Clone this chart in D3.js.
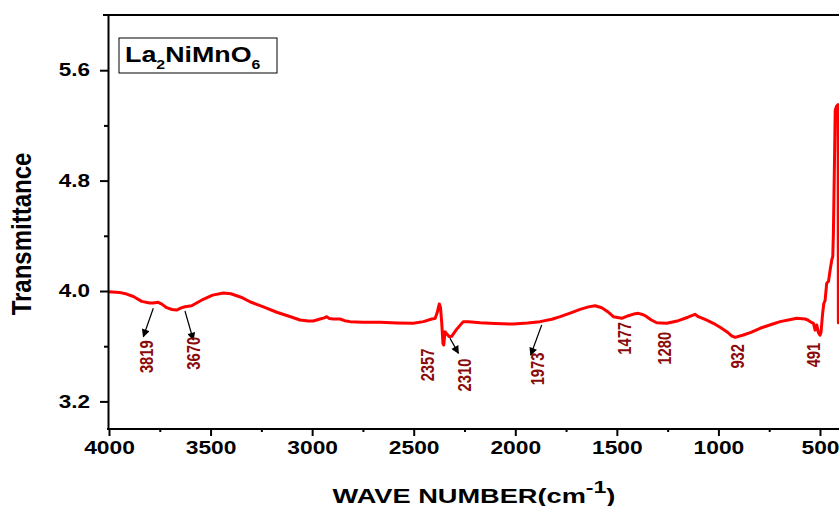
<!DOCTYPE html>
<html>
<head>
<meta charset="utf-8">
<script src="https://cdn.jsdelivr.net/npm/d3@7"></script>
<style>
  html, body { margin: 0; padding: 0; background: #fff; }
  svg { display: block; font-family: "Liberation Sans", Arial, sans-serif; }
</style>
</head>
<body>
<svg id="chart" width="839" height="506"></svg>
<script>
// FT-IR spectrum of La2NiMnO6
const wavenumber = [
  4000, 3950, 3913, 3880, 3839, 3800, 3783, 3758, 3740, 3716, 3690, 3667, 3645, 3626, 3593,
  3560, 3536, 3490, 3437, 3400, 3350, 3306, 3240, 3174, 3110, 3060, 3020, 2994, 2961, 2940,
  2928, 2915, 2896, 2863, 2840, 2813, 2750, 2666, 2580, 2502, 2452, 2411, 2395, 2385, 2374,
  2368, 2362, 2356, 2352, 2346, 2338, 2325, 2313, 2290, 2256, 2231, 2173, 2100, 2009, 1940,
  1878, 1820, 1779, 1730, 1681, 1640, 1607, 1574, 1545, 1517, 1476, 1443, 1410, 1394, 1370,
  1353, 1330, 1304, 1254, 1197, 1150, 1115, 1099, 1060, 1025, 990, 959, 935, 918, 877,
  840, 795, 740, 696, 650, 614, 573, 560, 549, 532, 524, 516, 508, 500, 495,
  487, 481, 475, 467, 458, 450, 442, 437, 434, 428, 425, 418, 411, 409.5, 405
];
const transmittance = [
  3.995, 3.990, 3.978, 3.960, 3.925, 3.913, 3.913, 3.918, 3.905, 3.879, 3.866, 3.862, 3.878, 3.886, 3.893,
  3.920, 3.940, 3.970, 3.986, 3.980, 3.955, 3.922, 3.885, 3.846, 3.815, 3.790, 3.782, 3.783, 3.797, 3.805,
  3.814, 3.800, 3.797, 3.797, 3.785, 3.778, 3.774, 3.773, 3.768, 3.766, 3.778, 3.797, 3.800, 3.840, 3.906,
  3.880, 3.768, 3.620, 3.609, 3.705, 3.690, 3.669, 3.672, 3.720, 3.778, 3.778, 3.770, 3.765, 3.760, 3.768,
  3.778, 3.795, 3.814, 3.840, 3.867, 3.885, 3.893, 3.879, 3.850, 3.814, 3.802, 3.821, 3.836, 3.838, 3.828,
  3.814, 3.790, 3.770, 3.766, 3.785, 3.810, 3.831, 3.814, 3.790, 3.766, 3.735, 3.705, 3.675, 3.664, 3.681,
  3.700, 3.730, 3.757, 3.778, 3.792, 3.802, 3.797, 3.790, 3.778, 3.766, 3.717, 3.754, 3.700, 3.680, 3.700,
  3.838, 3.911, 3.930, 4.056, 4.070, 4.152, 4.225, 4.250, 4.420, 5.000, 5.310, 5.340, 5.350, 3.770, 3.770
];

const xTickValues = [4000, 3500, 3000, 2500, 2000, 1500, 1000, 500];
const xMinorTicks = [3750, 3250, 2750, 2250, 1750, 1250, 750];
const yTickValues = [3.2, 4.0, 4.8, 5.6];
const yMinorTicks = [3.6, 4.4, 5.2];

const peakLabels = ["3819", "3670", "2357", "2310", "1973", "1477", "1280", "932", "491"];

// label centres and arrows, placed in data coordinates
const labelAnchors = [
  [3814, 3.524], [3585, 3.549], [2432, 3.464], [2251, 3.391], [1891, 3.435],
  [1464, 3.657], [1267, 3.585], [906, 3.527], [533, 3.536]
];
const arrows = [
  [[3782, 3.875], [3831, 3.669]],
  [[3626, 3.855], [3585, 3.645]],
  [[2321, 3.657], [2280, 3.549]],
  [[1870, 3.754], [1924, 3.536]]
];

const svg = d3.select("#chart");
const plotLeft = 108, plotRight = 840.3, plotTop = 15, plotBottom = 429;

const x = d3.scaleLinear().domain([4000, 400]).range([plotLeft + 1, plotRight]);
const y = d3.scaleLinear().domain([3.0, 6.0]).range([plotBottom, plotTop]);

const defs = svg.append("defs");
defs.append("marker")
  .attr("id", "arrowhead")
  .attr("viewBox", "0 0 10 10")
  .attr("refX", 9).attr("refY", 5)
  .attr("markerWidth", 9).attr("markerHeight", 8)
  .attr("markerUnits", "userSpaceOnUse")
  .attr("orient", "auto")
  .append("path").attr("d", "M0,0 L10,5 L0,10 z").attr("fill", "#000");
defs.append("clipPath").attr("id", "plotClip")
  .append("rect").attr("x", plotLeft).attr("y", plotTop).attr("width", 900).attr("height", plotBottom - plotTop);

// top frame line
svg.append("line")
  .attr("x1", plotLeft - 5).attr("x2", 839).attr("y1", plotTop).attr("y2", plotTop)
  .attr("stroke", "#000").attr("stroke-width", 2);

// spectrum
const line = d3.line().x((d, i) => x(wavenumber[i])).y(d => y(d));
svg.append("path")
  .datum(transmittance)
  .attr("clip-path", "url(#plotClip)")
  .attr("d", line)
  .attr("fill", "none")
  .attr("stroke", "#ff0000")
  .attr("stroke-width", 3)
  .attr("stroke-linejoin", "round");

// axes
const xAxis = svg.append("g").attr("transform", `translate(0,${plotBottom})`)
  .call(d3.axisBottom(x).tickValues(xTickValues).tickSize(7).tickSizeOuter(0).tickPadding(5).tickFormat(d3.format("d")));
svg.append("g").attr("transform", `translate(0,${plotBottom})`)
  .call(d3.axisBottom(x).tickValues(xMinorTicks).tickSize(3).tickSizeOuter(0).tickFormat(""))
  .call(g => g.select(".domain").remove());
xAxis.select(".domain").attr("d", `M${plotLeft - 1},0H839`);

const yAxis = svg.append("g").attr("transform", `translate(${plotLeft},0)`)
  .call(d3.axisLeft(y).tickValues(yTickValues).tickSize(8).tickSizeOuter(0).tickFormat(d3.format(".1f")));
svg.append("g").attr("transform", `translate(${plotLeft},0)`)
  .call(d3.axisLeft(y).tickValues(yMinorTicks).tickSize(4).tickSizeOuter(0).tickFormat(""))
  .call(g => g.select(".domain").remove());

svg.selectAll(".domain, .tick line").attr("stroke", "#000").attr("stroke-width", 2);

const xsx = 1.2, ysx = 1.25;
xAxis.selectAll(".tick text")
  .attr("font-size", 19).attr("font-weight", "bold").attr("fill", "#000")
  .attr("font-family", "Liberation Sans, Arial, sans-serif")
  .attr("transform", `scale(${xsx},1)`);
yAxis.selectAll(".tick text")
  .attr("font-size", 18).attr("font-weight", "bold").attr("fill", "#000")
  .attr("font-family", "Liberation Sans, Arial, sans-serif")
  .attr("x", -18 / ysx)
  .attr("transform", `scale(${ysx},1)`);

// axis titles
svg.append("text")
  .attr("transform", "translate(31,234) rotate(-90) scale(1,1.16)")
  .attr("text-anchor", "middle")
  .attr("font-size", 24).attr("font-weight", "bold")
  .text("Transmittance");

const xTitle = svg.append("text")
  .attr("transform", "translate(474,503) scale(1.36,1)")
  .attr("text-anchor", "middle")
  .attr("font-size", 20).attr("font-weight", "bold");
xTitle.append("tspan").text("WAVE NUMBER(cm");
xTitle.append("tspan").attr("dy", -10).attr("font-size", 17).text("-1");
xTitle.append("tspan").attr("dy", 10).text(")");

// legend box
svg.append("rect")
  .attr("x", 119).attr("y", 38).attr("width", 158).attr("height", 35)
  .attr("fill", "#fff").attr("stroke", "#000").attr("stroke-width", 1);
const leg = svg.append("text")
  .attr("transform", "translate(125,62) scale(1.22,1)")
  .attr("font-size", 22).attr("font-weight", "bold");
leg.append("tspan").text("La");
leg.append("tspan").attr("dy", 7).attr("font-size", 13).text("2");
leg.append("tspan").attr("dy", -7).text("NiMnO");
leg.append("tspan").attr("dy", 7).attr("font-size", 13).text("6");

// peak annotations
svg.append("g").selectAll("line")
  .data(arrows)
  .join("line")
  .attr("x1", d => x(d[0][0])).attr("y1", d => y(d[0][1]))
  .attr("x2", d => x(d[1][0])).attr("y2", d => y(d[1][1]))
  .attr("stroke", "#000").attr("stroke-width", 1.2)
  .attr("marker-end", "url(#arrowhead)");

svg.append("g").selectAll("text")
  .data(peakLabels)
  .join("text")
  .attr("transform", (d, i) => `translate(${x(labelAnchors[i][0])},${y(labelAnchors[i][1])}) rotate(-90) scale(0.82,1)`)
  .attr("text-anchor", "middle")
  .attr("dy", "0.36em")
  .attr("font-size", 18).attr("font-weight", "bold")
  .attr("fill", "#8b0a0a")
  .text(d => d);
</script>
</body>
</html>
